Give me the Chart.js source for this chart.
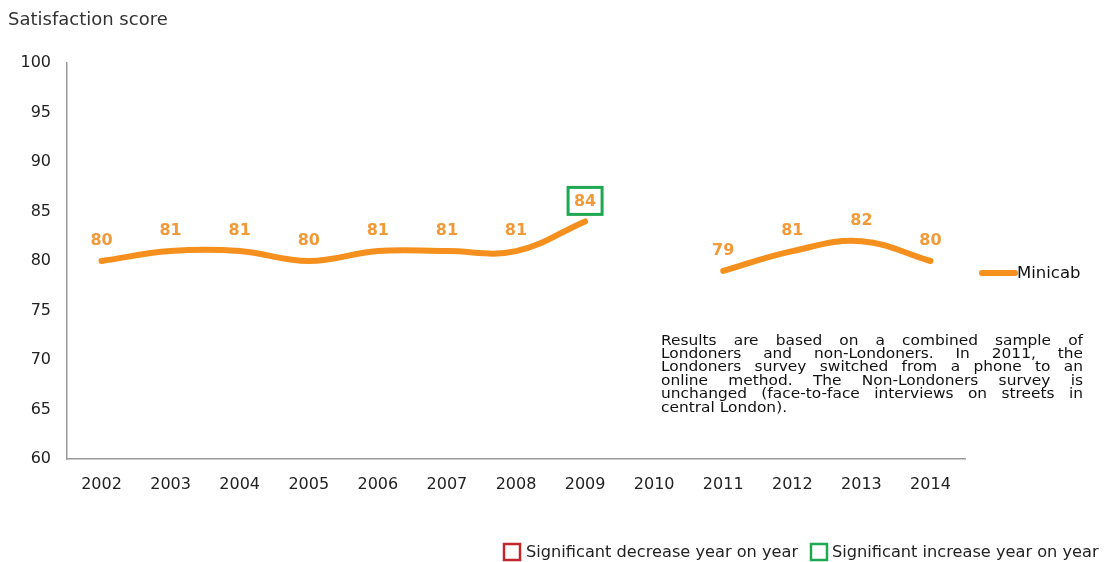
<!DOCTYPE html>
<html>
<head>
<meta charset="utf-8">
<script src="https://cdn.jsdelivr.net/npm/chart.js@4.4.1/dist/chart.umd.min.js"></script>
<style>
  html, body { margin: 0; padding: 0; background: #fff; }
  #wrap { position: relative; width: 1105px; height: 562px; }
</style>
</head>
<body>
<div id="wrap"><canvas id="grafico" width="1105" height="562"></canvas></div>
<script>
// anni e punteggi
var anni = ['2002', '2003', '2004', '2005', '2006', '2007', '2008', '2009', '2010', '2011', '2012', '2013', '2014'];
var minicab = [80, 81, 81, 80, 81, 81, 81, 84, null, 79, 81, 82, 80];
// 1 = aumento significativo, -1 = calo significativo
var significativo = [0, 0, 0, 0, 0, 0, 0, 1, 0, 0, 0, 0, 0];
var tickY = [60, 65, 70, 75, 80, 85, 90, 95, 100];

var nota = [
    'Results are based on a combined sample of',
    'Londoners and non-Londoners.  In 2011, the',
    'Londoners survey switched from a phone to an',
    'online method. The Non-Londoners survey is',
    'unchanged (face-to-face interviews on streets in',
    'central London).'
];

var arancio = '#f5901e';
var arancioTesto = '#f09a3a';
var verde = '#1ea851';
var rosso = '#c1272d';

// etichette, riquadri, legenda e nota disegnati a mano
var extra = {
    id: 'extra',
    afterDatasetsDraw: function(chart) {
        var ctx = chart.ctx;
        var meta = chart.getDatasetMeta(0);
        ctx.save();
        ctx.font = 'bold 16px "DejaVu Sans"';
        ctx.textAlign = 'center';
        ctx.textBaseline = 'middle';
        for (var i = 0; i < minicab.length; i++) {
            if (minicab[i] === null) continue;
            var p = meta.data[i];
            var ly = p.y - 20;
            ctx.fillStyle = arancioTesto;
            ctx.fillText(minicab[i], p.x, ly);
            if (significativo[i] !== 0) {
                ctx.strokeStyle = significativo[i] > 0 ? verde : rosso;
                ctx.lineWidth = 3;
                ctx.strokeRect(p.x - 17, ly - 14, 34, 27);
            }
        }
        ctx.restore();
    },
    afterDraw: function(chart) {
        var ctx = chart.ctx;
        ctx.save();
        // titolo asse
        ctx.fillStyle = '#333';
        ctx.font = '18px "DejaVu Sans"';
        ctx.textAlign = 'left';
        ctx.textBaseline = 'middle';
        ctx.fillText('Satisfaction score', 8, 20);

        // legenda serie
        ctx.strokeStyle = arancio;
        ctx.lineWidth = 6;
        ctx.lineCap = 'round';
        ctx.beginPath();
        ctx.moveTo(982, 273);
        ctx.lineTo(1015, 273);
        ctx.stroke();
        ctx.fillStyle = '#111';
        ctx.font = '16.5px "DejaVu Sans"';
        ctx.fillText('Minicab', 1017, 274);

        // nota giustificata, un po' stretta in larghezza
        ctx.font = '14px "DejaVu Sans"';
        ctx.fillStyle = '#111';
        var x0 = 661, larg = 422, y0 = 341, passo = 13.4;
        var maxW = 0;
        for (var r = 0; r < nota.length; r++) {
            maxW = Math.max(maxW, ctx.measureText(nota[r].replace('  ', ' ')).width);
        }
        var sx = Math.min(1.1, (larg - 20) / maxW);
        for (var r = 0; r < nota.length; r++) {
            var parole = nota[r].split(' ').filter(function(s) { return s.length; });
            var y = y0 + r * passo;
            ctx.save();
            ctx.translate(x0, y);
            ctx.scale(sx, 1);
            if (r === nota.length - 1) {
                ctx.fillText(nota[r], 0, 0);
                ctx.restore();
                continue;
            }
            var tot = 0;
            for (var w = 0; w < parole.length; w++) tot += ctx.measureText(parole[w]).width;
            var gap = (larg / sx - tot) / (parole.length - 1);
            var x = 0;
            for (var w = 0; w < parole.length; w++) {
                ctx.fillText(parole[w], x, 0);
                x += ctx.measureText(parole[w]).width + gap;
            }
            ctx.restore();
        }

        // legenda significatività
        ctx.lineWidth = 2.5;
        ctx.lineCap = 'butt';
        ctx.strokeStyle = rosso;
        ctx.strokeRect(504, 544, 16, 16);
        ctx.strokeStyle = verde;
        ctx.strokeRect(811, 544, 16, 16);
        ctx.fillStyle = '#222';
        ctx.font = '16.2px "DejaVu Sans"';
        ctx.fillText('Significant decrease year on year', 526, 553);
        ctx.fillText('Significant increase year on year', 832, 553);
        ctx.restore();
    }
};

var ctx = document.getElementById('grafico');
var chart = new Chart(ctx, {
    type: 'line',
    data: {
        labels: anni,
        datasets: [{
            label: 'Minicab',
            data: minicab,
            borderColor: arancio,
            backgroundColor: arancio,
            borderWidth: 6,
            borderCapStyle: 'round',
            tension: 0.4,
            pointRadius: 0,
            spanGaps: false
        }]
    },
    options: {
        responsive: false,
        animation: false,
        layout: { padding: { top: 63, right: 140, bottom: 63, left: 0 } },
        plugins: {
            legend: { display: false },
            tooltip: { enabled: false }
        },
        scales: {
            x: {
                offset: true,
                grid: { drawOnChartArea: false, drawTicks: false, color: '#999' },
                border: { display: true, color: '#9a9a9a', width: 1.5 },
                ticks: {
                    padding: 16,
                    color: '#222',
                    font: { family: '"DejaVu Sans"', size: 16 }
                },
                afterFit: function(scale) { scale.height = 40; }
            },
            y: {
                min: 60,
                max: 100,
                afterBuildTicks: function(scale) {
                    scale.ticks = tickY.map(function(v) { return { value: v }; });
                },
                grid: { drawOnChartArea: false, drawTicks: false, color: '#999' },
                border: { display: true, color: '#9a9a9a', width: 1.5 },
                ticks: {
                    padding: 16,
                    color: '#222',
                    font: { family: '"DejaVu Sans"', size: 16 }
                },
                afterFit: function(scale) { scale.width = 67; }
            }
        }
    },
    plugins: [extra]
});
</script>
</body>
</html>
